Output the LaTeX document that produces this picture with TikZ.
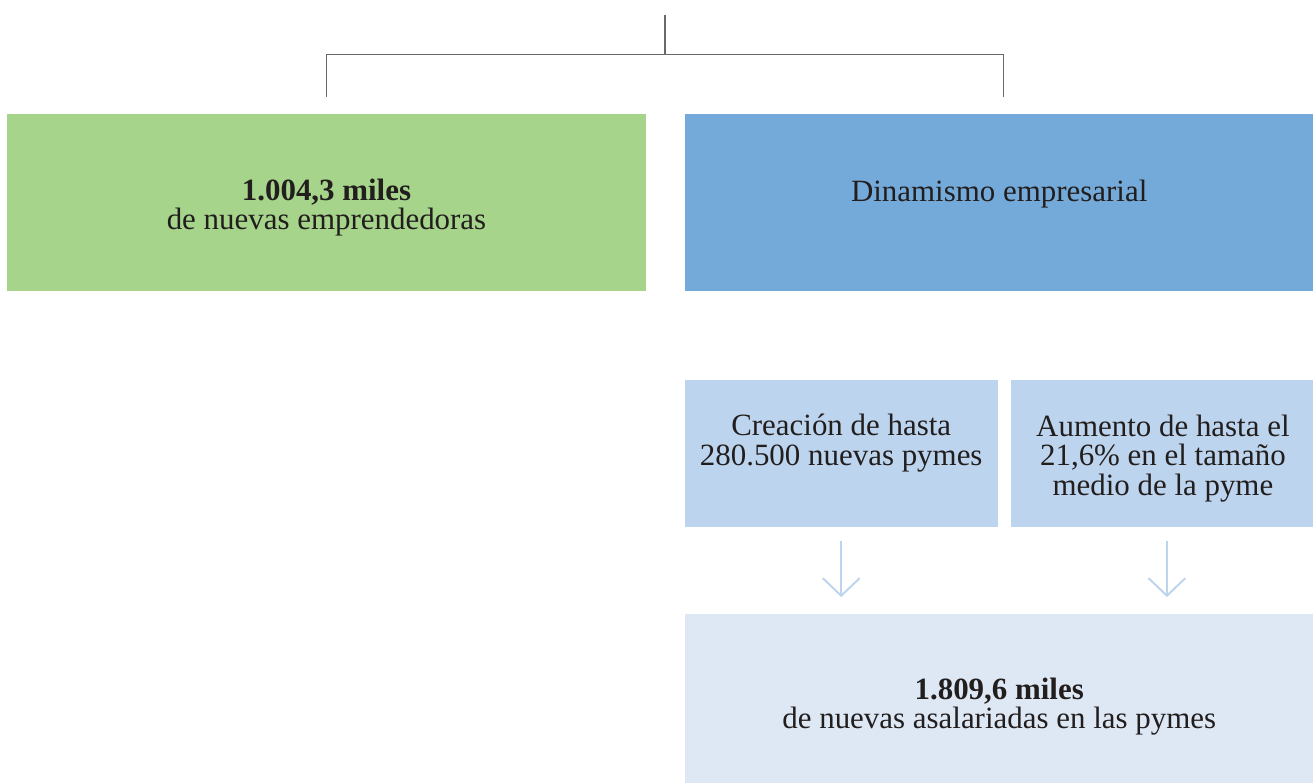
\documentclass[tikz,border=0pt]{standalone}
\usepackage{xcolor}
\usepackage{fontspec}
\setmainfont{Liberation Serif}
\usepackage{tikz}
\usetikzlibrary{arrows.meta, positioning}
\definecolor{textdark}{RGB}{34, 30, 30}
\definecolor{leafgreen}{RGB}{165, 212, 138}
\definecolor{midblue}{RGB}{116, 170, 217}
\definecolor{paleblue}{RGB}{189, 212, 238}
\definecolor{mistblue}{RGB}{222, 232, 245}
\definecolor{linegray}{RGB}{105, 105, 105}
\tikzstyle{panel} = [
    rectangle,
    inner sep=0pt,
    draw=none,
    minimum height=3.54cm
]
\tikzstyle{caption} = [
    align=center,
    text=textdark,
    inner sep=0pt,
    font=\fontsize{17.6}{16.8}\selectfont
]
\tikzstyle{bracket} = [
    line width=0.6pt,
    color=linegray
]
\tikzstyle{arrow} = [
    line width=1.1pt,
    -{Straight Barb[length=10pt, width=21pt]},
    color=paleblue
]

\begin{document}
\begin{tikzpicture}
        \useasboundingbox (0,0) rectangle (26.26,-15.64);
        \node[panel, fill=leafgreen, minimum width=12.78cm] (emp) at (6.53,-4.05) {};
        \node[panel, fill=midblue, minimum width=12.58cm, right=0.76cm of emp] (din) {};
        \node[panel, fill=paleblue, minimum width=6.26cm, minimum height=2.94cm, below right=1.76cm and 0cm of din.south west] (crea) {};
        \node[panel, fill=paleblue, minimum width=6.06cm, minimum height=2.94cm, right=0.26cm of crea] (aum) {};
        \node[panel, fill=mistblue, minimum width=12.58cm, minimum height=3.38cm, below right=1.74cm and 0cm of crea.south west] (asal) {};

        % texts
        \node[caption] (emptxt) at ([yshift=-0.1cm]emp.center) {\textbf{1.004,3 miles}\\de nuevas emprendedoras};
        \node[caption, below=1.6cm of din.north, anchor=center] (dintxt) {Dinamismo empresarial};
        \node[caption] (creatxt) at ([yshift=0.2cm]crea.center) {Creación de hasta\\280.500 nuevas pymes};
        \node[caption] (aumtxt) at ([yshift=-0.1cm]aum.center) {Aumento de hasta el\\21,6\% en el tamaño\\medio de la pyme};
        \node[caption] (asaltxt) at ([yshift=-0.15cm]asal.center) {\textbf{1.809,6 miles}\\de nuevas asalariadas en las pymes};

        % bracket on top
        \coordinate (root) at (13.30,-0.30);
        \draw[bracket] (root) -- ++(0,-0.80);
        \draw[bracket] ([yshift=0.34cm]emp.north) -- ++(0,0.84) -| ([xshift=0.09cm, yshift=0.34cm]din.north);

        \draw[arrow, shorten <=0.28cm, shorten >=0.34cm] (crea.south) -- (crea.south |- asal.north);
        \draw[arrow, shorten <=0.28cm, shorten >=0.34cm] ([xshift=0.08cm]aum.south) -- ([xshift=0.08cm]aum.south |- asal.north);
    \end{tikzpicture}
\end{document}
